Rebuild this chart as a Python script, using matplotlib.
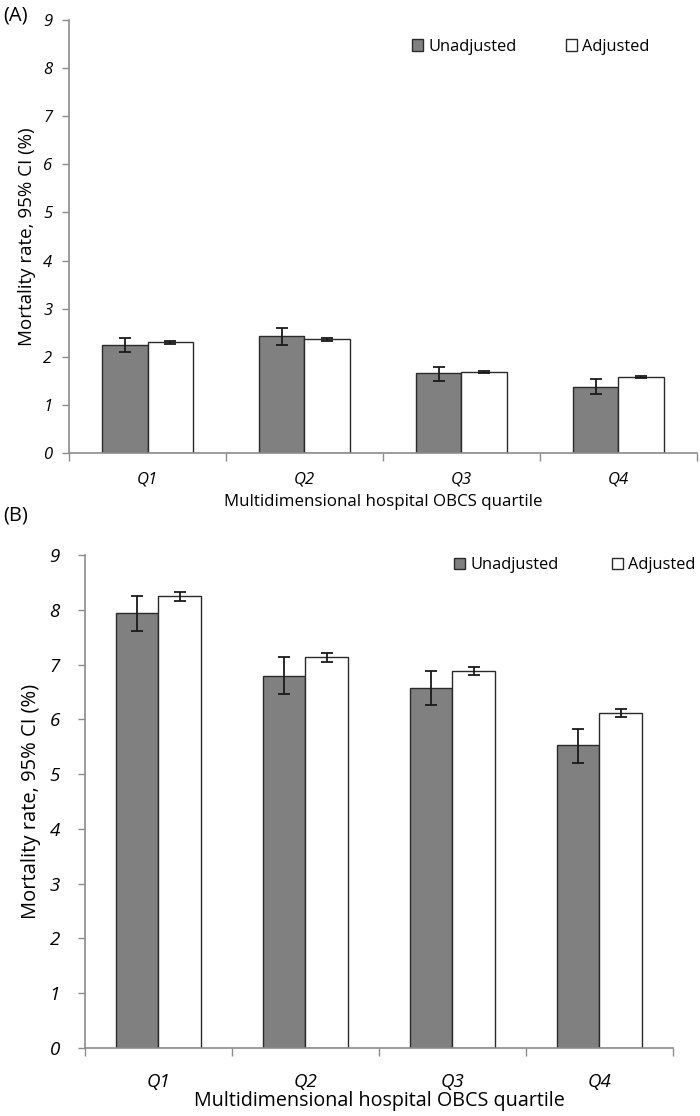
import matplotlib
matplotlib.use("Agg")
import matplotlib.pyplot as plt
import numpy as np

plt.rcParams['font.family'] = ['Open Sans', 'DejaVu Sans']

categories = ["Q1", "Q2", "Q3", "Q4"]
series_names = ["Unadjusted", "Adjusted"]

# Panel A
a_unadj = [2.25, 2.43, 1.66, 1.38]
a_unadj_lo = [2.10, 2.25, 1.50, 1.23]
a_unadj_hi = [2.40, 2.60, 1.78, 1.53]
a_adj = [2.30, 2.36, 1.69, 1.57]
a_adj_lo = [2.27, 2.32, 1.67, 1.55]
a_adj_hi = [2.32, 2.40, 1.71, 1.59]

# Panel B
b_unadj = [7.95, 6.80, 6.57, 5.53]
b_unadj_lo = [7.62, 6.47, 6.27, 5.20]
b_unadj_hi = [8.25, 7.13, 6.88, 5.82]
b_adj = [8.25, 7.13, 6.88, 6.12]
b_adj_lo = [8.16, 7.05, 6.81, 6.04]
b_adj_hi = [8.32, 7.22, 6.95, 6.19]

yticks = list(range(0, 10))
xlabel = "Multidimensional hospital OBCS quartile"
ylabel = "Mortality rate, 95% CI (%)"

fig = plt.figure(figsize=(7, 11.16), dpi=100)

axis_col = "#8c8c8c"

def draw(ax, unadj, ulo, uhi, adj, alo, ahi, fs_tick, fs_xlab, fs_ylab, ypad, xpad,
         xlabpad, ylabpad, legend_anchor, fs_leg, colsp):
    x = np.arange(len(categories))
    w = 0.29
    ax.bar(x - w/2, unadj, w, color="#808080", edgecolor="#2a2a2a", linewidth=1.0,
           label=series_names[0], zorder=2)
    ax.bar(x + w/2, adj, w, color="white", edgecolor="#2a2a2a", linewidth=1.0,
           label=series_names[1], zorder=2)
    u = np.array(unadj); a = np.array(adj)
    ax.errorbar(x - w/2, u, yerr=[u - np.array(ulo), np.array(uhi) - u], fmt="none",
                ecolor="#1a1a1a", elinewidth=1.3, capsize=4, capthick=1.3, zorder=3)
    ax.errorbar(x + w/2, a, yerr=[a - np.array(alo), np.array(ahi) - a], fmt="none",
                ecolor="#1a1a1a", elinewidth=1.3, capsize=4, capthick=1.3, zorder=3)
    ax.set_xlim(-0.5, len(categories) - 0.5)
    ax.set_ylim(0, 9)
    ax.set_yticks(yticks)
    ax.set_yticklabels([str(t) for t in yticks], fontstyle="italic", fontsize=fs_tick)
    ax.set_xticks(x)
    ax.set_xticklabels(categories, fontstyle="italic", fontsize=fs_tick)
    ax.set_xticks(np.arange(len(categories) + 1) - 0.5, minor=True)
    ax.tick_params(axis="x", which="major", length=0, pad=xpad)
    ax.tick_params(axis="x", which="minor", length=6, color=axis_col, width=1)
    ax.tick_params(axis="y", length=5, color=axis_col, width=1, pad=ypad)
    for s in ["top", "right"]:
        ax.spines[s].set_visible(False)
    for s in ["left", "bottom"]:
        ax.spines[s].set_color(axis_col)
        ax.spines[s].set_linewidth(1.2)
    ax.set_xlabel(xlabel, fontsize=fs_xlab, labelpad=xlabpad)
    ax.set_ylabel(ylabel, fontsize=fs_ylab, labelpad=ylabpad)
    ax.legend(loc="center left", bbox_to_anchor=legend_anchor, bbox_transform=fig.transFigure,
              ncol=2, frameon=False, fontsize=fs_leg, handlelength=0.7, handleheight=0.7,
              handletextpad=0.3, columnspacing=colsp, borderaxespad=0, borderpad=0)

axA = fig.add_axes([0.0986, 0.5941, 0.897, 0.388])
draw(axA, a_unadj, a_unadj_lo, a_unadj_hi, a_adj, a_adj_lo, a_adj_hi,
     fs_tick=12, fs_xlab=12.2, fs_ylab=13.5, ypad=7, xpad=13, xlabpad=5, ylabpad=5,
     legend_anchor=(0.5886, 0.958), fs_leg=11.8, colsp=3.0)
axB = fig.add_axes([0.1214, 0.0609, 0.84, 0.4418])
draw(axB, b_unadj, b_unadj_lo, b_unadj_hi, b_adj, b_adj_lo, b_adj_hi,
     fs_tick=13.5, fs_xlab=14.2, fs_ylab=14.5, ypad=13, xpad=18, xlabpad=0, ylabpad=6,
     legend_anchor=(0.6486, 0.4937), fs_leg=11.8, colsp=3.25)

fig.text(0.004, 0.9865, "(A)", fontsize=14.5, va="center", ha="left")
fig.text(0.004, 0.5385, "(B)", fontsize=14.5, va="center", ha="left")

fig.savefig("out.png", dpi=100)
